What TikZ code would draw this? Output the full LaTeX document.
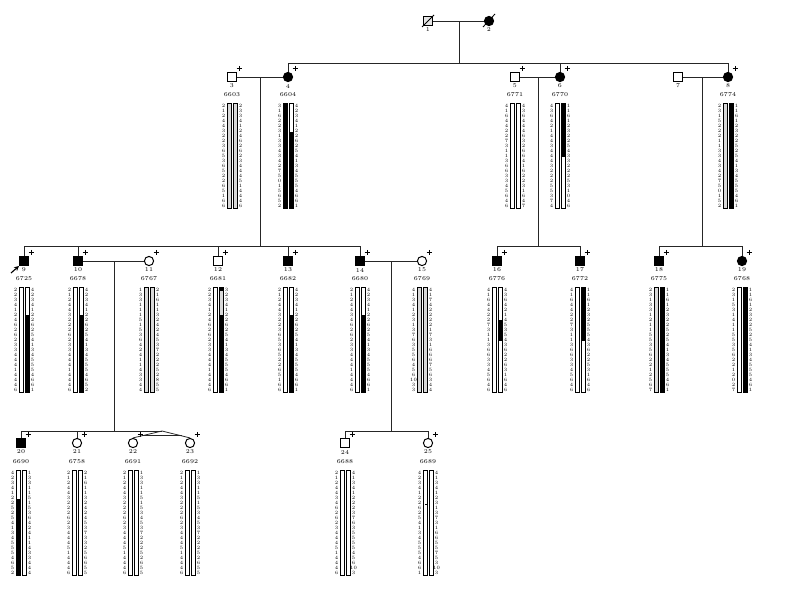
\documentclass[tikz,border=0pt]{standalone}
\usetikzlibrary{arrows.meta,calc}
\tikzset{
  male/.style={draw,rectangle,minimum size=0.22cm,inner sep=0pt,line width=0.7pt},
  female/.style={draw,circle,minimum size=0.23cm,inner sep=0pt,line width=0.7pt},
  aff/.style={fill=black},
  lbl/.style={font=\fontsize{4.2}{4.5}\selectfont,inner sep=0pt},
  allele/.style={font=\fontsize{3.5}{4}\selectfont,inner sep=0pt},
  line/.style={line width=0.55pt,black!85},
}
% haplotype: centre x, top y, left alleles, right alleles
\newcommand{\hapl}[4]{%
  \foreach \al [count=\i] in {#3} \node[allele] at (#1-8.5,#2+5*\i-2.5) {\al};
  \foreach \al [count=\i] in {#4} \node[allele] at (#1+8.5,#2+5*\i-2.5) {\al};
  \draw[line width=0.4pt] (#1-5,#2) rectangle (#1-1,#2+105);
  \draw[line width=0.4pt] (#1+1,#2) rectangle (#1+5,#2+105);
}
% shaded part of a bar: centre x, side (-5 left, 1 right), from y, to y, colour
\newcommand{\seg}[5]{\fill[#5] (#1+#2,#3) rectangle (#1+#2+4,#4);}
% typed mark above right of a symbol
\newcommand{\plusmark}[1]{%
  \draw[line width=0.8pt] ([shift={(4.5,-8.5)}]#1.center) -- ([shift={(10,-8.5)}]#1.center);
  \draw[line width=0.8pt] ([shift={(7.25,-11.25)}]#1.center) -- ([shift={(7.25,-5.75)}]#1.center);
}
\begin{document}
\begin{tikzpicture}[x=0.025cm,y=-0.025cm]
\useasboundingbox (0,0) rectangle (800,594);
%generation I
\node[male,fill=gray!20] (p1) at (428,21) {};
\node[female,aff] (p2) at (489,21) {};
\draw[line width=0.6pt] ([shift={(-6,6)}]p1.center) -- ([shift={(6,-6)}]p1.center);
\draw[line width=0.6pt] ([shift={(-6,6)}]p2.center) -- ([shift={(6,-7)}]p2.center);
\node[lbl] (n1) at (428,30) {1};
\node[lbl] (n2) at (489,30) {2};
\coordinate (m12) at (459,21);
\coordinate (s2) at (459,63);
\draw[line] (p1) -- (p2);
\draw[line] (m12) -- (s2);
%generation II
\node[male] (p3) at (232,77) {};
\node[female,aff] (p4) at (288,77) {};
\node[male] (p5) at (515,77) {};
\node[female,aff] (p6) at (560,77) {};
\node[male] (p7) at (678,77) {};
\node[female,aff] (p8) at (728,77) {};
\foreach \p in {3,4,5,6,8} {\plusmark{p\p}}
\foreach \p/\x in {3/232,4/288,5/515,6/560,7/678,8/728} \node[lbl] (n\p) at (\x,86) {\p};
\node[lbl] (id3) at (232,95) {6603};
\node[lbl] (id4) at (288,95) {6604};
\node[lbl] (id5) at (515,95) {6771};
\node[lbl] (id6) at (560,95) {6770};
\node[lbl] (id8) at (728,95) {6774};
\draw[line] (p4.north) -- (p4|-s2) -- (p8|-s2) -- (p8.north);
\draw[line] (p6.north) -- (p6|-s2);
\draw[line] (p3) -- (p4);
\draw[line] (p5) -- (p6);
\draw[line] (p7) -- (p8);
\coordinate (m34) at (260,77);
\coordinate (m56) at (538,77);
\coordinate (m78) at (702,77);
\coordinate (s3) at (260,246);
\draw[line] (m34) -- (s3);
\draw[line] (m56) -- (m56|-s3);
\draw[line] (m78) -- (m78|-s3);
\seg{232}{-5}{103}{208}{gray!30} \seg{232}{1}{103}{208}{gray!30}
\seg{288}{-5}{103}{208}{black} \seg{288}{1}{132}{208}{black}
\seg{560}{1}{103}{157}{black}
\seg{728}{-5}{103}{208}{gray!30} \seg{728}{1}{103}{208}{black}
\hapl{232}{103}{2,1,2,4,4,3,2,2,3,6,5,3,6,5,2,2,6,5,1,6,6}{2,3,3,4,1,2,4,6,2,6,2,3,4,4,4,5,1,4,4,4,6}
\hapl{288}{103}{3,1,6,2,2,3,1,3,3,4,3,4,2,7,5,0,1,5,6,5,2}{4,2,3,4,1,2,2,6,2,5,4,1,3,4,5,5,5,4,6,6,1}
\hapl{515}{103}{4,1,6,4,4,2,2,7,3,1,1,3,6,6,3,3,4,5,6,4,6}{4,3,6,4,4,4,6,3,2,6,6,4,1,6,2,2,3,1,6,4,7}
\hapl{560}{103}{4,3,6,4,2,1,4,4,3,4,4,4,3,2,2,2,5,5,3,7,4}{1,1,6,1,2,3,2,2,5,4,3,3,2,2,2,5,3,1,0,4,6}
\hapl{728}{103}{2,3,1,5,2,2,2,1,1,3,3,4,3,4,2,7,5,0,1,5,2}{1,1,6,1,2,3,2,2,5,2,5,4,1,3,4,5,5,5,4,6,1}
%generation III
\node[male,aff] (p9) at (24,261) {};
\node[male,aff] (p10) at (78,261) {};
\node[female] (p11) at (149,261) {};
\node[male] (p12) at (218,261) {};
\node[male,aff] (p13) at (288,261) {};
\node[male,aff] (p14) at (360,261) {};
\node[female] (p15) at (422,261) {};
\node[male,aff] (p16) at (497,261) {};
\node[male,aff] (p17) at (580,261) {};
\node[male,aff] (p18) at (659,261) {};
\node[female,aff] (p19) at (742,261) {};
\foreach \p in {9,...,19} {\plusmark{p\p}}
\foreach \p/\x/\id in {9/24/6725,10/78/6678,11/149/6767,12/218/6681,13/288/6682,14/360/6680,15/422/6769,16/497/6776,17/580/6772,18/659/6775,19/742/6768}{
  \node[lbl] (n\p) at (\x,270) {\p};
  \node[lbl] (id\p) at (\x,279) {\id};
}
\coordinate (pb) at (11,273);
\draw[line width=0.8pt,-{Stealth[length=3.5pt,width=3.5pt]}] (pb) -- ([shift={(-5,5)}]p9.center);
\draw[line] (p9.north) -- (p9|-s3) -- (p14|-s3) -- (p14.north);
\foreach \p in {10,12,13} \draw[line] (p\p.north) -- (p\p|-s3);
\draw[line] (p16.north) -- (p16|-s3) -- (p17|-s3) -- (p17.north);
\draw[line] (p18.north) -- (p18|-s3) -- (p19|-s3) -- (p19.north);
\draw[line] (p10) -- (p11);
\draw[line] (p14) -- (p15);
\coordinate (m1011) at (114,261);
\coordinate (m1415) at (391,261);
\coordinate (s4) at (114,431);
\draw[line] (m1011) -- (s4);
\draw[line] (m1415) -- (m1415|-s4);
\seg{24}{1}{315}{392}{black}
\seg{78}{1}{315}{392}{black}
\seg{149}{-5}{287}{392}{gray!30} \seg{149}{1}{287}{392}{gray!30}
\seg{218}{1}{287}{291}{black} \seg{218}{1}{291}{315}{gray!30} \seg{218}{1}{315}{392}{black}
\seg{288}{1}{315}{392}{black}
\seg{360}{1}{315}{392}{black}
\seg{422}{-5}{287}{392}{gray!30} \seg{422}{1}{287}{392}{gray!30}
\seg{497}{1}{320}{341}{black}
\seg{580}{1}{287}{341}{black}
\seg{659}{-5}{287}{392}{gray!30} \seg{659}{1}{287}{392}{black}
\seg{742}{1}{287}{392}{black}
\hapl{24}{287}{2,2,3,4,1,2,4,6,2,6,2,3,3,4,4,4,1,4,4,4,6}{4,2,3,4,1,2,2,6,2,5,4,1,3,4,5,5,5,4,6,6,1}
\hapl{78}{287}{2,1,2,4,4,3,2,2,2,6,2,3,3,4,4,4,1,4,4,4,6}{4,2,3,4,1,2,2,6,2,5,4,1,3,4,5,5,5,4,6,5,2}
\hapl{149}{287}{1,3,3,1,1,1,5,1,5,3,6,4,2,4,1,1,4,3,3,4,4}{2,1,6,1,1,3,2,4,2,4,5,3,7,2,2,2,5,2,8,5,5}
\hapl{218}{287}{2,2,3,4,1,2,4,6,2,6,2,3,3,4,4,4,1,4,4,4,6}{3,2,3,4,1,2,2,6,2,5,4,1,3,4,5,5,5,4,6,6,1}
\hapl{288}{287}{2,1,2,4,4,3,2,2,3,6,5,3,6,5,2,2,6,5,1,6,6}{4,2,3,4,1,2,2,6,2,5,4,1,3,4,5,5,5,4,6,6,1}
\hapl{360}{287}{2,1,2,4,4,3,4,6,2,6,2,3,3,4,4,4,1,4,4,4,6}{4,2,3,4,1,2,2,6,2,5,4,1,3,4,5,5,5,4,6,6,1}
\hapl{422}{287}{4,1,3,4,1,2,3,1,3,7,6,3,5,5,6,4,5,6,10,3,3}{4,1,7,4,2,2,2,2,1,7,3,1,6,6,6,7,5,6,3,4,4}
\hapl{497}{287}{4,1,6,4,4,2,2,7,3,1,1,3,6,6,3,3,4,5,6,4,6}{4,3,6,4,2,1,4,5,3,5,4,3,6,2,2,6,3,1,6,4,6}
\hapl{580}{287}{4,1,6,4,4,2,2,7,3,1,1,3,6,6,3,3,4,5,6,4,6}{1,1,6,1,2,3,2,5,5,5,4,3,6,2,2,5,3,1,6,4,6}
\hapl{659}{287}{2,3,1,3,3,1,2,1,1,5,5,3,5,6,2,2,1,2,5,6,7}{1,1,6,1,2,3,2,2,5,2,5,4,1,3,4,5,5,5,4,6,1}
\hapl{742}{287}{2,3,1,5,3,1,4,1,1,5,5,3,5,6,2,2,1,2,0,2,7}{1,1,6,1,2,3,2,2,5,2,5,4,1,3,4,5,5,5,4,6,1}
%generation IV
\node[male,aff] (p20) at (21,443) {};
\node[female] (p21) at (77,443) {};
\node[female] (p22) at (133,443) {};
\node[female] (p23) at (190,443) {};
\node[male] (p24) at (345,443) {};
\node[female] (p25) at (428,443) {};
\foreach \p in {20,...,25} {\plusmark{p\p}}
\foreach \p/\x/\id in {20/21/6690,21/77/6758,22/133/6691,23/190/6692,24/345/6688,25/428/6689}{
  \node[lbl] (n\p) at (\x,452) {\p};
  \node[lbl] (id\p) at (\x,462) {\id};
}
\coordinate (tw) at (162,431);
\draw[line] (p20.north) -- (p20|-s4) -- (tw);
\draw[line] (p21.north) -- (p21|-s4);
\draw[line] (p22.north) -- (tw) -- (p23.north);
\draw[line] ($(tw)!0.7!(p22.north)$) -- ($(tw)!0.7!(p23.north)$);
\draw[line] (p24.north) -- (p24|-s4) -- (p25|-s4) -- (p25.north);
\seg{21}{-5}{499}{575}{black}
\hapl{21}{470}{4,2,3,4,1,2,2,5,2,5,4,1,3,4,5,5,5,4,6,5,2}{1,3,3,1,1,5,1,5,3,6,4,2,4,1,1,4,3,3,4,4,4}
\hapl{77}{470}{2,1,2,4,4,3,2,2,2,6,2,3,4,4,4,5,1,4,4,4,6}{2,1,6,1,1,3,2,4,2,4,5,3,7,3,3,2,5,6,6,5,5}
\hapl{133}{470}{2,1,2,4,4,3,2,2,2,6,2,3,4,4,4,5,1,4,4,4,6}{1,3,3,1,1,5,1,5,3,4,5,3,7,2,2,2,5,2,6,5,5}
\hapl{190}{470}{2,1,2,4,4,3,2,2,2,6,2,3,4,4,4,5,1,4,4,4,6}{1,3,3,1,1,5,1,5,3,4,5,3,7,2,2,2,5,2,6,5,5}
\hapl{345}{470}{2,1,2,4,4,3,4,6,2,6,2,3,4,4,4,5,1,4,4,4,6}{4,1,3,4,1,2,2,2,3,7,6,3,5,5,5,5,4,5,6,10,3}
\hapl{428}{470}{4,2,3,4,1,2,2,6,2,5,4,1,3,4,5,5,5,4,6,6,1}{4,1,3,4,1,2,3,1,3,7,3,1,6,6,5,5,7,5,3,10,3}
\draw[line width=0.4pt] (425,504) -- (428,504);
\end{tikzpicture}
\end{document}
